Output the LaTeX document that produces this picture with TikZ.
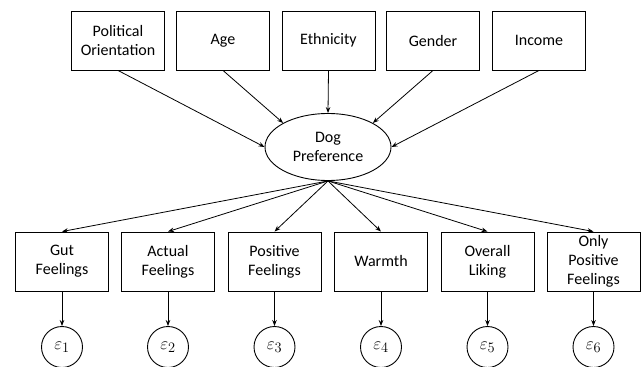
\documentclass[tikz,border=0pt]{standalone}
\usepackage{fontspec}
\setmainfont{Carlito}
\usetikzlibrary{arrows.meta,shapes.geometric}
\begin{document}
\begin{tikzpicture}[x=1pt,y=-1pt,line width=0.9pt,
    var/.style={draw,minimum width=93pt,minimum height=59pt,inner sep=0pt,
      align=center,font=\fontsize{16}{19}\selectfont},
    latent/.style={draw,ellipse,minimum width=126pt,minimum height=67pt,
      inner sep=0pt,align=center,font=\fontsize{16}{19}\selectfont},
    err/.style={draw,circle,minimum size=41pt,inner sep=0pt,
      font=\fontsize{19}{22}\selectfont},
    path/.style={-{Stealth[length=6pt,width=4.5pt]},line width=0.8pt}]
  \useasboundingbox (0,0) rectangle (643,367);
  \node[latent] (dog) at (328,147) {Dog\\Preference};
  % predictors
  \foreach \n/\x/\txt/\a in {pol/118/Political\\Orientation/west,
      age/223/Age/north west, eth/328.5/Ethnicity/north,
      gen/433/Gender/north east, inc/539/Income/east}
  {
    \node[var] (\n) at (\x,40.5) {\txt};
    \draw[path] (\n.south) -- (dog.\a);
  }
  % indicators and errors
  \foreach \n/\x/\txt [count=\i] in {gut/62/Gut\\Feelings,
      act/168/Actual\\Feelings, pos/274.5/Positive\\Feelings,
      warm/381/Warmth, over/487.5/Overall\\Liking,
      only/593.5/Only\\Positive\\Feelings}
  {
    \node[var] (\n) at (\x,261.5) {\txt};
    \node[err] (e\i) at (\x,347) {$\varepsilon_{\i}$};
    \draw[path] (dog.south) -- (\n.north);
    \draw[path] (\n.south) -- (e\i.north);
  }
\end{tikzpicture}
\end{document}
